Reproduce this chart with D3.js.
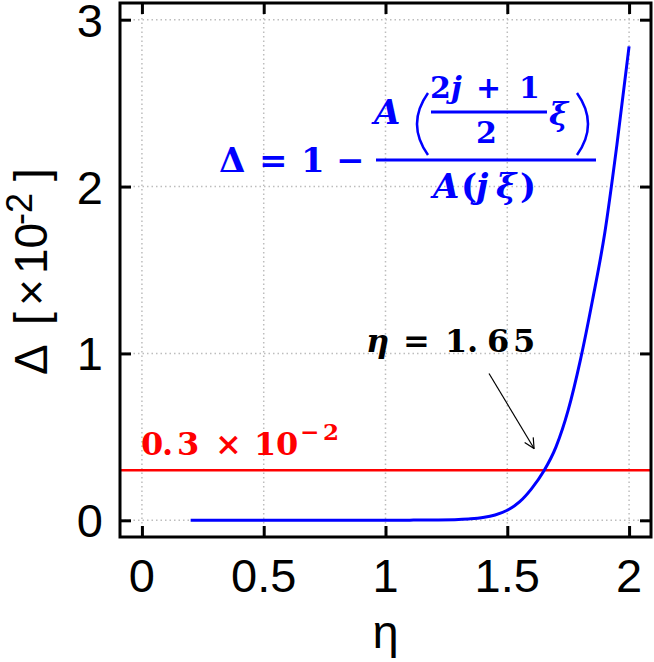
<!DOCTYPE html>
<html>
<head>
<meta charset="utf-8">
<script src="https://cdn.jsdelivr.net/npm/d3@7"></script>
<style>
  body { margin: 0; background: #fff; }
  svg { display: block; }
</style>
</head>
<body>
<div id="chart"></div>
<script>
// curve data
const etaValues   = [0.2, 0.4, 0.6, 0.8, 1.0, 1.1, 1.2, 1.3, 1.35, 1.4, 1.45, 1.5, 1.55, 1.6, 1.65, 1.7, 1.75, 1.8, 1.85, 1.9, 1.95, 2.0];
const deltaValues = [0, 0, 0, 0, 0, 0.001, 0.002, 0.005, 0.009, 0.017, 0.032, 0.06, 0.11, 0.19, 0.295, 0.44, 0.66, 0.96, 1.32, 1.72, 2.25, 2.84];
const xTicks = [0, 0.5, 1, 1.5, 2];
const yTicks = [0, 1, 2, 3];
const threshold = 0.3;

const svgWidth = 654,
      svgHeight = 662;

const margin = { top: 3, right: 3, bottom: 125, left: 120 };
const width = svgWidth - margin.left - margin.right,
      height = svgHeight - margin.top - margin.bottom;

const svg = d3.select('#chart')
              .append('svg')
              .attr('width', svgWidth)
              .attr('height', svgHeight);

const x = d3.scaleLinear().domain([-0.09, 2.09]).range([margin.left, margin.left + width]);
const y = d3.scaleLinear().domain([-0.1, 3.1]).range([margin.top + height, margin.top]);

// grid
const grid = svg.append('g')
                .attr('stroke', '#bdbdbd')
                .attr('stroke-width', 1.5)
                .attr('stroke-dasharray', '1.5,3');
grid.selectAll('.gx').data(xTicks).enter().append('line')
    .attr('x1', d => x(d)).attr('x2', d => x(d))
    .attr('y1', y.range()[0]).attr('y2', y.range()[1]);
grid.selectAll('.gy').data(yTicks).enter().append('line')
    .attr('y1', d => y(d)).attr('y2', d => y(d))
    .attr('x1', x.range()[0]).attr('x2', x.range()[1]);

// axes with inward ticks on all four sides
const tickLen = 11;
const axStyle = g => {
  g.select('.domain').remove();
  g.selectAll('.tick line').attr('stroke', '#000').attr('stroke-width', 3);
  g.selectAll('.tick text').remove();
};
svg.append('g').attr('transform', `translate(0,${y.range()[0]})`)
   .call(d3.axisTop(x).tickValues(xTicks).tickSize(tickLen)).call(axStyle);
svg.append('g').attr('transform', `translate(0,${y.range()[1]})`)
   .call(d3.axisBottom(x).tickValues(xTicks).tickSize(tickLen)).call(axStyle);
svg.append('g').attr('transform', `translate(${x.range()[0]},0)`)
   .call(d3.axisRight(y).tickValues(yTicks).tickSize(tickLen)).call(axStyle);
svg.append('g').attr('transform', `translate(${x.range()[1]},0)`)
   .call(d3.axisLeft(y).tickValues(yTicks).tickSize(tickLen)).call(axStyle);

// tick labels
const labelFont = "'Liberation Sans', Arial, sans-serif";
svg.append('g').selectAll('text').data(xTicks).enter().append('text')
   .attr('x', d => x(d)).attr('y', 592)
   .attr('text-anchor', 'middle')
   .attr('font-family', labelFont).attr('font-size', 47)
   .text(d => d3.format('~g')(d));
svg.append('g').selectAll('text').data(yTicks).enter().append('text')
   .attr('x', 103).attr('y', d => Math.max(y(d) + 17, 37))
   .attr('text-anchor', 'end')
   .attr('font-family', labelFont).attr('font-size', 47)
   .text(d => d);

// axis titles
svg.append('text')
   .attr('x', x(1)).attr('y', 648)
   .attr('text-anchor', 'middle')
   .attr('font-family', labelFont).attr('font-size', 47)
   .text('η');

const yTitle = svg.append('text')
   .attr('transform', 'translate(47,375) rotate(-90)')
   .attr('font-family', labelFont).attr('font-size', 46);
yTitle.append('tspan').attr('x', 0).text('Δ');
yTitle.append('tspan').attr('x', 50).text('[');
yTitle.append('tspan').attr('x', 69).text('×');
yTitle.append('tspan').attr('x', 101).text('10');
yTitle.append('tspan').attr('x', 150).attr('dy', -15).attr('font-size', 36).text('-2');
yTitle.append('tspan').attr('x', 194).attr('dy', 15).text(']');

// threshold line
svg.append('line')
   .attr('x1', x.range()[0]).attr('x2', x.range()[1])
   .attr('y1', y(threshold)).attr('y2', y(threshold))
   .attr('stroke', '#ff0000').attr('stroke-width', 2.5);

// curve
const line = d3.line()
               .x((d, i) => x(etaValues[i]))
               .y(d => y(d))
               .curve(d3.curveMonotoneX);
svg.append('path')
   .datum(deltaValues)
   .attr('fill', 'none')
   .attr('stroke', '#0000ff')
   .attr('stroke-width', 3)
   .attr('d', line);

// frame
svg.append('rect')
   .attr('x', x.range()[0]).attr('y', y.range()[1])
   .attr('width', width).attr('height', height)
   .attr('fill', 'none').attr('stroke', '#000').attr('stroke-width', 3);

// annotation arrow
svg.append('defs').append('marker')
   .attr('id', 'head')
   .attr('viewBox', '0 0 12 12')
   .attr('refX', 11).attr('refY', 6)
   .attr('markerWidth', 12).attr('markerHeight', 12)
   .attr('markerUnits', 'userSpaceOnUse')
   .attr('orient', 'auto')
   .append('path')
   .attr('d', 'M1,1 L11,6 L1,11')
   .attr('fill', 'none').attr('stroke', '#000').attr('stroke-width', 1.2);
svg.append('line')
   .attr('x1', x(1.425)).attr('y1', y(0.88))
   .attr('x2', x(1.61)).attr('y2', y(0.43))
   .attr('stroke', '#000').attr('stroke-width', 1.2)
   .attr('marker-end', 'url(#head)');

// math annotations, glyph by glyph
const mathFont = "'DejaVu Serif', 'Liberation Serif', serif";
const glyphs = (g, items) => items.forEach(([txt, px, py, size, italic]) => {
  g.append('text')
   .attr('x', px).attr('y', py)
   .attr('font-size', size)
   .attr('font-style', italic ? 'italic' : 'normal')
   .text(txt);
});

const etaLabel = svg.append('g')
   .attr('font-family', mathFont).attr('font-weight', 'bold').attr('fill', '#000');
glyphs(etaLabel, [
  ['η', 366, 352, 32, true],
  ['=', 403, 352, 32, false],
  ['1', 445, 352, 32, false],
  ['.', 467, 352, 32, false],
  ['6', 487, 352, 32, false],
  ['5', 513, 352, 32, false]
]);

const thrLabel = svg.append('g')
   .attr('font-family', mathFont).attr('font-weight', 'bold').attr('fill', '#ff0000');
glyphs(thrLabel, [
  ['0', 141, 455, 32, false],
  ['.', 162, 455, 32, false],
  ['3', 177, 455, 32, false],
  ['×', 215, 455, 32, false],
  ['1', 254, 455, 32, false],
  ['0', 276, 455, 32, false],
  ['−', 300, 440, 23, false],
  ['2', 323, 440, 23, false]
]);

// formula
const blue = '#0000ff';
const f = svg.append('g')
   .attr('fill', blue)
   .attr('font-family', mathFont)
   .attr('font-weight', 'bold');
glyphs(f, [
  ['Δ', 219, 172, 34, false],
  ['=', 259, 172, 34, false],
  ['1', 301, 172, 34, false],
  ['−', 336, 172, 34, false],
  ['A', 374, 124, 34, true],
  ['2', 430, 98, 30, false],
  ['j', 451, 98, 30, true],
  ['+', 476, 98, 30, false],
  ['1', 519, 98, 30, false],
  ['2', 476, 143, 30, false],
  ['ξ', 549, 125, 32, true],
  ['A', 433, 198, 34, true],
  ['(', 461, 198, 34, false],
  ['j', 476, 198, 34, true],
  ['ξ', 496, 198, 34, true],
  [')', 520, 198, 34, false]
]);
f.append('line').attr('x1', 376).attr('x2', 596).attr('y1', 160).attr('y2', 160)
   .attr('stroke', blue).attr('stroke-width', 3);
f.append('line').attr('x1', 431).attr('x2', 547).attr('y1', 112).attr('y2', 112)
   .attr('stroke', blue).attr('stroke-width', 3);
f.append('path').attr('d', 'M428,93 Q406,124 428,155')
   .attr('fill', 'none').attr('stroke', blue).attr('stroke-width', 2.5);
f.append('path').attr('d', 'M577,93 Q599,124 577,155')
   .attr('fill', 'none').attr('stroke', blue).attr('stroke-width', 2.5);
</script>
</body>
</html>
